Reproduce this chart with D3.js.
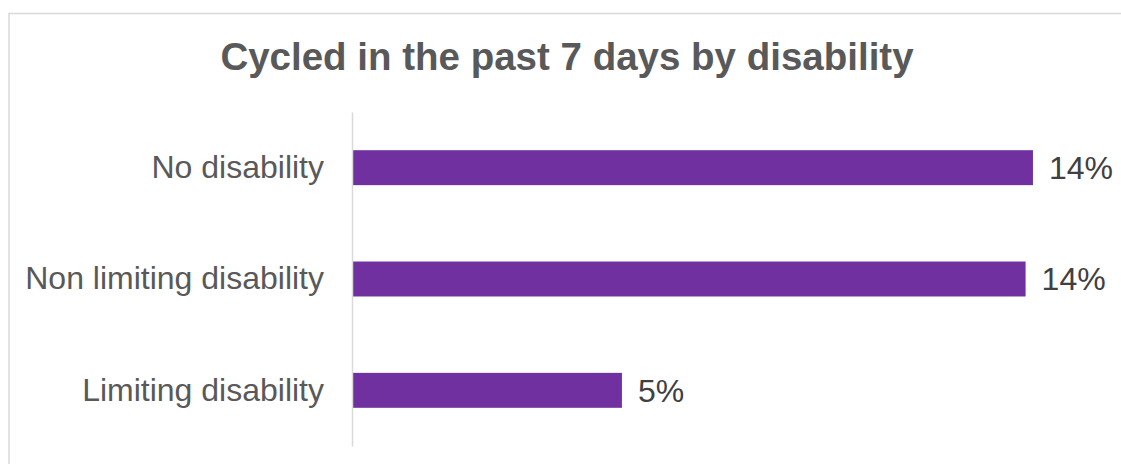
<!DOCTYPE html>
<html>
<head>
<meta charset="utf-8">
<script src="https://cdn.jsdelivr.net/npm/d3@7"></script>
<style>
  html, body { margin: 0; padding: 0; background: #ffffff; }
  svg { display: block; }
</style>
</head>
<body>
<svg id="chart" width="1121" height="464"></svg>
<script>
// Share of people who cycled in the past 7 days, by disability status
const categories = ["No disability", "Non limiting disability", "Limiting disability"];
const values = [0.1385, 0.137, 0.0549];
const chartTitle = "Cycled in the past 7 days by disability";

const width = 1121, height = 464;
const margin = { top: 112, right: 2, bottom: 18, left: 352 };
const fontFamily = "'Liberation Sans', Arial, Helvetica, sans-serif";

const svg = d3.select("#chart");

// chart area frame
svg.append("rect")
  .attr("x", 9).attr("y", 13.5)
  .attr("width", width + 20).attr("height", height + 20)
  .attr("fill", "#ffffff")
  .attr("stroke", "#d9d9d9")
  .attr("stroke-width", 1.5);

// title
svg.append("text")
  .attr("x", 567).attr("y", 70)
  .attr("text-anchor", "middle")
  .attr("font-family", fontFamily)
  .attr("font-weight", "bold")
  .attr("font-size", 38.5)
  .attr("fill", "#595959")
  .text(chartTitle);

const x = d3.scaleLinear()
  .domain([0, 0.156])
  .range([margin.left, width - margin.right]);

const y = d3.scaleBand()
  .domain(categories)
  .range([margin.top, height - margin.bottom])
  .paddingInner(0.686)
  .paddingOuter(0.343);

const data = categories.map((c, i) => ({ category: c, value: values[i] }));

// bars
svg.append("g")
  .selectAll("rect")
  .data(data)
  .join("rect")
  .attr("x", x(0))
  .attr("y", d => y(d.category))
  .attr("width", d => x(d.value) - x(0))
  .attr("height", y.bandwidth())
  .attr("fill", "#7030a0");

// category axis
const yAxis = svg.append("g")
  .attr("transform", `translate(${x(0)},0)`)
  .call(d3.axisLeft(y).tickSize(0).tickPadding(28));
yAxis.select(".domain")
  .attr("stroke", "#d9d9d9")
  .attr("stroke-width", 1.5);
yAxis.selectAll("text")
  .attr("font-family", fontFamily)
  .attr("font-size", 32)
  .attr("fill", "#595959");

// value labels
const fmt = d3.format(".0%");
svg.append("g")
  .selectAll("text")
  .data(data)
  .join("text")
  .attr("x", d => x(d.value) + 16)
  .attr("y", d => y(d.category) + y.bandwidth() / 2)
  .attr("dy", "0.35em")
  .attr("font-family", fontFamily)
  .attr("font-size", 32)
  .attr("fill", "#404040")
  .text(d => fmt(d.value));
</script>
</body>
</html>
